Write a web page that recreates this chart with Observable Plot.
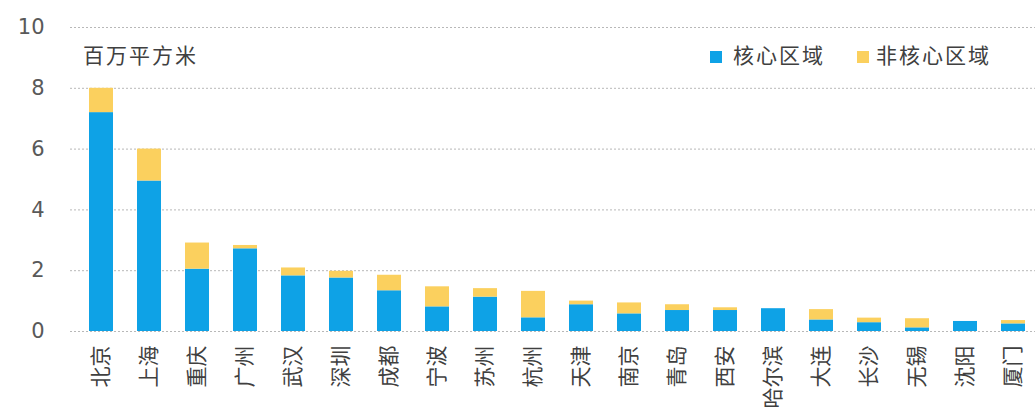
<!DOCTYPE html>
<html>
<head>
<meta charset="utf-8">
<script src="https://cdn.jsdelivr.net/npm/d3@7"></script>
<script src="https://cdn.jsdelivr.net/npm/@observablehq/plot@0.6"></script>
<style>
  html, body { margin: 0; padding: 0; background: #fff; }
  #wrap { position: relative; width: 1035px; height: 412px; overflow: hidden; }
  .lbl { position: absolute; font-family: "Noto Sans CJK SC", sans-serif; font-size: 21px; color: #404040; letter-spacing: 2px; line-height: 1; white-space: nowrap; }
  .sw { position: absolute; width: 12px; height: 12px; }
</style>
</head>
<body>
<div id="wrap"></div>
<script>
const cities = ["北京","上海","重庆","广州","武汉","深圳","成都","宁波","苏州","杭州","天津","南京","青岛","西安","哈尔滨","大连","长沙","无锡","沈阳","厦门"];
const core    = [7.2, 4.95, 2.05, 2.72, 1.83, 1.76, 1.34, 0.81, 1.13, 0.45, 0.88, 0.58, 0.69, 0.69, 0.75, 0.38, 0.29, 0.12, 0.33, 0.25];
const noncore = [0.8, 1.05, 0.86, 0.11, 0.26, 0.22, 0.51, 0.66, 0.28, 0.87, 0.12, 0.36, 0.19, 0.09, 0.0, 0.34, 0.15, 0.30, 0.0, 0.11];
const seriesNames = ["核心区域", "非核心区域"];
const seriesColors = ["#0ea2e6", "#fbd05e"];
const yTicks = [0, 2, 4, 6, 8, 10];
const unitLabel = "百万平方米";

const rows = [];
cities.forEach((c, i) => rows.push({city: c, series: seriesNames[0], value: core[i]}));
cities.forEach((c, i) => rows.push({city: c, series: seriesNames[1], value: noncore[i]}));

const chart = Plot.plot({
  width: 1035,
  height: 412,
  marginTop: 27,
  marginBottom: 81,
  marginLeft: 70,
  marginRight: 0,
  style: {background: "#fff", overflow: "visible"},
  x: {domain: cities, paddingInner: 0.5, paddingOuter: 0.2, align: 0.66, label: null},
  y: {domain: [0, 10], label: null},
  color: {domain: seriesNames, range: seriesColors},
  marks: [
    Plot.gridY(yTicks, {stroke: "#b8b8b8", strokeOpacity: 1, strokeDasharray: "2,2"}),
    Plot.barY(rows, {x: "city", y: "value", fill: "series", order: seriesNames}),
    Plot.axisY(yTicks, {tickSize: 0, tickPadding: 26, fontSize: 21, fill: "#595959", fontFamily: "DejaVu Sans", label: null}),
    Plot.axisX({tickSize: 0, tickPadding: 14, tickRotate: -90, fontSize: 21, fill: "#404040", fontFamily: "Noto Sans CJK SC", label: null})
  ]
});
const wrap = document.getElementById("wrap");
wrap.appendChild(chart);

function addText(txt, left, top) {
  const d = document.createElement("div");
  d.className = "lbl"; d.textContent = txt;
  d.style.left = left + "px"; d.style.top = top + "px";
  wrap.appendChild(d);
}
function addSwatch(color, left, top) {
  const d = document.createElement("div");
  d.className = "sw"; d.style.background = color;
  d.style.left = left + "px"; d.style.top = top + "px";
  wrap.appendChild(d);
}
addText(unitLabel, 83, 44);
addSwatch(seriesColors[0], 710, 51);
addText(seriesNames[0], 733, 44);
addSwatch(seriesColors[1], 857, 51);
addText(seriesNames[1], 876, 44);
</script>
</body>
</html>
